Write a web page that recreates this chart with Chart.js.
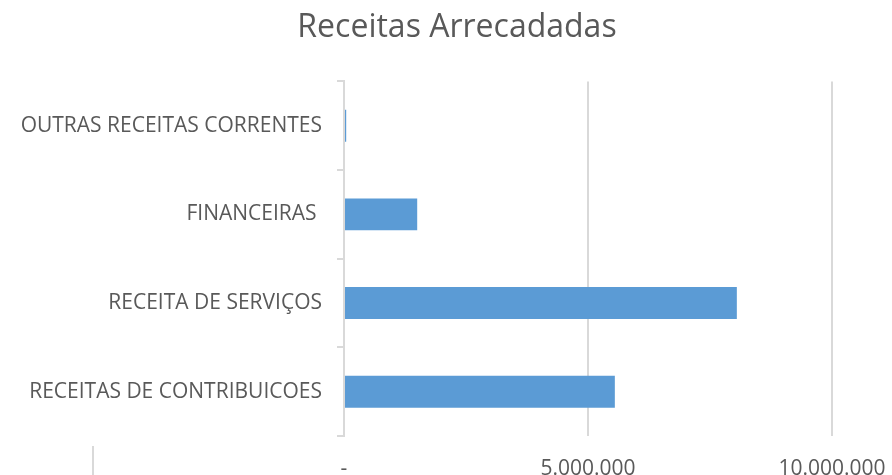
<!DOCTYPE html>
<html lang="pt-BR">
<head>
<meta charset="utf-8">
<title>Receitas Arrecadadas</title>
<script src="https://cdn.jsdelivr.net/npm/chart.js@4"></script>
<style>
  html, body { margin: 0; padding: 0; background: #fff; overflow: hidden; }
  .box { width: 892px; height: 478px; position: relative; }
</style>
</head>
<body>
<div class="box"><canvas id="receitas"></canvas></div>
<script>
// Receitas por origem (R$)
const categorias = ['OUTRAS RECEITAS CORRENTES', 'FINANCEIRAS ', 'RECEITA DE SERVIÇOS', 'RECEITAS DE CONTRIBUICOES'];
const valores = [45000, 1500000, 8050000, 5550000];
const ticksX = [0, 5000000, 10000000];

const corTexto = '#595959';
const corGrade = '#d9d9d9';

// 0 vira "-", o resto com ponto de milhar
function formatar(v) {
  if (v === 0) return '-';
  return String(Math.round(v)).replace(/\B(?=(\d{3})+(?!\d))/g, '.');
}

// linha solta no canto inferior esquerdo
const linhaCanto = {
  id: 'linhaCanto',
  afterDraw(chart) {
    const ctx = chart.ctx;
    ctx.save();
    ctx.strokeStyle = corGrade;
    ctx.lineWidth = 2;
    ctx.beginPath();
    ctx.moveTo(93, 446);
    ctx.lineTo(93, 478);
    ctx.stroke();
    ctx.restore();
  }
};

new Chart(document.getElementById('receitas'), {
  type: 'bar',
  data: {
    labels: categorias,
    datasets: [{
      data: valores,
      backgroundColor: '#5b9bd5',
      categoryPercentage: 1,
      barPercentage: 0.36
    }]
  },
  options: {
    indexAxis: 'y',
    responsive: true,
    maintainAspectRatio: false,
    animation: false,
    layout: { padding: { left: 22, right: 0, top: 0, bottom: 0 } },
    plugins: {
      legend: { display: false },
      tooltip: { enabled: false },
      title: {
        display: true,
        text: 'Receitas Arrecadadas',
        color: corTexto,
        font: { family: 'Open Sans', size: 32, weight: 'normal' },
        padding: { top: 9, bottom: 34 }
      }
    },
    scales: {
      x: {
        min: 0,
        max: 10000000,
        afterBuildTicks(scale) {
          scale.ticks = ticksX.map(v => ({ value: v }));
        },
        afterFit(scale) {
          scale.height = 42;
          scale.paddingRight = 60;
        },
        border: { display: false },
        grid: { color: corGrade, lineWidth: 2, drawTicks: false },
        ticks: {
          color: corTexto,
          padding: 20,
          font: { family: 'Open Sans', size: 21 },
          callback: v => formatar(v)
        }
      },
      y: {
        afterFit(scale) { scale.width = 322; },
        border: { display: true, color: corGrade, width: 2 },
        grid: { offset: true, drawOnChartArea: false, drawTicks: true, tickLength: 7, color: corGrade, lineWidth: 2 },
        ticks: {
          color: corTexto,
          padding: 15,
          font: { family: 'Open Sans', size: 21 }
        }
      }
    }
  },
  plugins: [linhaCanto]
});
</script>
</body>
</html>
